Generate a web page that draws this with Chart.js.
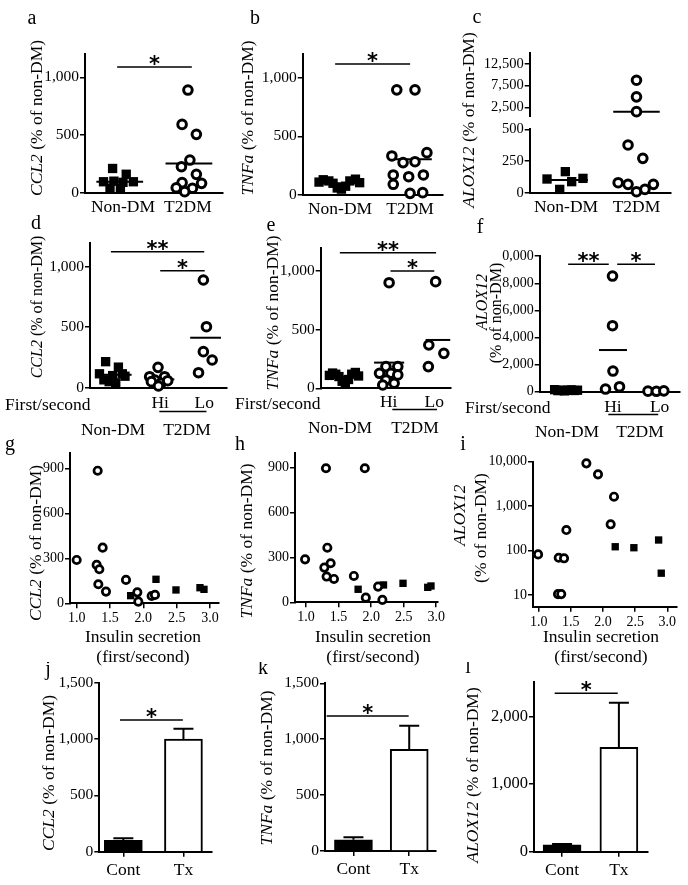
<!DOCTYPE html>
<html>
<head>
<meta charset="utf-8">
<script src="https://cdn.jsdelivr.net/npm/chart.js@4.4.0/dist/chart.umd.min.js"></script>
<style>
body { margin: 0; background: #fff; width: 688px; height: 885px; position: relative; overflow: hidden; }
canvas { position: absolute; }
</style>
</head>
<body>
<canvas id="pa"></canvas><canvas id="pb"></canvas><canvas id="pc"></canvas>
<canvas id="pd"></canvas><canvas id="pe"></canvas><canvas id="pf"></canvas>
<canvas id="pg"></canvas><canvas id="ph"></canvas><canvas id="pi"></canvas>
<canvas id="pj"></canvas><canvas id="pk"></canvas><canvas id="pl"></canvas>
<script>
const SERIF = '"Liberation Serif", "Times New Roman", serif';
Chart.defaults.font.family = SERIF;
Chart.defaults.color = '#000';

// ---- categories / tick labels ----
const groupsAC = ['Non-DM', 'T2DM'];
const groupsDF = ['', 'Hi', 'Lo'];
const barGroups = ['Cont', 'Tx'];
const ticks1200 = [0, 500, 1000];
const ticksCLow = [0, 250, 500];
const ticksCHigh = [2500, 7500, 12500];
const ticksF = [0, 2000, 4000, 6000, 8000, 10000];
const ticks900 = [0, 300, 600, 900];
const ticksLog = [10, 100, 1000, 10000];
const ticksInsulin = [1.0, 1.5, 2.0, 2.5, 3.0];
const ticks1500 = [0, 500, 1000, 1500];
const ticks2000 = [0, 1000, 2000];

// ---- a: CCL2 ----
const aNonX = [0.84, 1.05, 0.70, 0.86, 1.00, 1.16, 0.80, 0.96];
const aNonY = [210, 160, 95, 100, 90, 95, 40, 35];
const aT2X = [2.00, 1.91, 2.13, 2.03, 1.90, 2.13, 1.91, 2.21, 1.82, 2.07, 1.95];
const aT2Y = [890, 592, 506, 283, 225, 159, 87, 81, 43, 38, 9];
const aMean = [95, 254];

// ---- b: TNFa ----
const bNonX = [0.70, 0.76, 0.84, 0.90, 0.96, 1.02, 1.08, 1.14, 1.22, 1.28];
const bNonY = [110, 130, 120, 100, 60, 50, 75, 120, 135, 105];
const bT2X = [1.81, 2.07, 2.24, 1.74, 1.90, 2.07, 1.76, 2.19, 1.98, 1.76, 2.00, 2.18];
const bT2Y = [896, 896, 361, 333, 276, 284, 171, 171, 156, 91, 14, 20];
const bMean = [100, 304];

// ---- c: ALOX12 ----
const cNonX = [0.73, 0.99, 1.08, 1.24, 0.91];
const cNonY = [108, 166, 87, 113, 26];
const cT2X = [2.00, 2.00, 2.00, 1.88, 2.09, 1.74, 1.88, 2.00, 2.12, 2.24];
const cT2Y = [8700, 4900, 1500, 376, 271, 79, 66, 8, 26, 66];
const cMean = [100, 1500];

// ---- d: CCL2 by first/second ----
const dNonX = [0.76, 1.05, 0.62, 1.14, 0.92, 0.72, 0.99, 0.84, 1.20];
const dNonY = [215, 170, 115, 115, 100, 65, 40, 50, 95];
const dHiX = [1.95, 1.76, 2.10, 1.88, 2.02, 2.17, 1.80, 1.96];
const dHiY = [168, 91, 91, 63, 36, 58, 50, 14];
const dLoX = [2.98, 3.05, 2.98, 3.18, 2.87];
const dLoY = [890, 504, 298, 229, 124];
const dMean = [107, 69, 413];

// ---- e: TNFa by first/second ----
const eNonX = [0.70, 0.77, 0.84, 0.91, 0.98, 1.05, 1.12, 1.19, 1.27, 1.34];
const eNonY = [110, 130, 120, 100, 60, 50, 75, 120, 135, 105];
const eHiX = [2.01, 1.94, 2.20, 1.80, 2.05, 2.20, 1.94, 1.87, 2.12];
const eHiY = [900, 185, 185, 128, 128, 114, 71, 28, 43];
const eLoX = [3.03, 2.88, 3.21, 2.87];
const eLoY = [909, 369, 298, 185];
const eMean = [100, 219, 412];

// ---- f: ALOX12 by first/second ----
const fNonX = [0.75, 0.82, 0.89, 0.96, 1.03, 1.10, 1.17, 1.24];
const fNonY = [150, 80, 120, 60, 100, 140, 90, 110];
const fHiX = [1.99, 1.99, 2.00, 1.84, 2.14];
const fHiY = [8536, 4870, 1525, 197, 369];
const fLoX = [2.75, 2.93, 3.09];
const fLoY = [40, 30, 60];
const fMean = [106, 3075, 43];

// ---- g/h/i: vs insulin secretion (circles T2DM, squares non-DM) ----
const gCircX = [1.315, 1.00, 1.39, 1.30, 1.34, 1.325, 1.44, 1.74, 1.91, 1.925, 2.125, 2.175];
const gCircY = [884, 289, 371, 256, 227, 127, 78, 156, 73, 11, 49, 56];
const gSqX = [1.81, 2.19, 2.49, 2.85, 2.91];
const gSqY = [51, 160, 89, 104, 93];
const hCircX = [1.306, 1.903, 0.985, 1.327, 1.281, 1.378, 1.316, 1.429, 1.735, 1.918, 2.107, 2.173];
const hCircY = [896, 896, 287, 365, 232, 261, 172, 156, 176, 31, 105, 16];
const hSqX = [1.80, 2.19, 2.49, 2.87, 2.92];
const hSqY = [87, 116, 127, 100, 109];
const iCircX = [1.741, 1.922, 2.171, 2.119, 1.43, 0.99, 1.311, 1.394, 1.30, 1.35];
const iCircY = [9170, 5190, 1630, 390, 290, 82, 69, 67, 10.5, 10.5];
const iSqX = [2.19, 2.48, 2.865, 2.906];
const iSqY = [122, 116, 173, 31];

// ---- j/k/l: bars, mean and SEM ----
const jMean = [100, 1000], jSem = [20, 92];
const kMean = [100, 910], kSem = [22, 210];
const lMean = [100, 1540], lSem = [12, 660];

// ---- helpers ----
function pts(xs, ys) { return xs.map((x, i) => ({x: x, y: ys[i]})); }

function circles(xs, ys, r, bw, axis) {
  return {data: pts(xs, ys), yAxisID: axis || 'y', pointStyle: 'circle', pointRadius: r,
    pointBorderWidth: bw, pointBorderColor: '#000', pointBackgroundColor: '#fff', showLine: false, clip: false};
}
function squares(xs, ys, r, axis) {
  return {data: pts(xs, ys), yAxisID: axis || 'y', pointStyle: 'rect', pointRadius: r,
    pointBorderWidth: 0, pointBackgroundColor: '#000', showLine: false, clip: false};
}
function meanLine(c, hw, m, axis) {
  return {data: [{x: c - hw, y: m}, {x: c + hw, y: m}], yAxisID: axis || 'y', showLine: true,
    borderColor: '#000', borderWidth: 2, pointRadius: 0, clip: false};
}
function yLin(min, max, ticks, size, extra) {
  return Object.assign({
    type: 'linear', position: 'left', min: min, max: max,
    afterBuildTicks: s => { s.ticks = ticks.map(v => ({value: v})); },
    ticks: {font: {size: size}, padding: 1, autoSkip: false, callback: v => v.toLocaleString('en-US')},
    grid: {drawOnChartArea: false, tickLength: 5, color: '#000', lineWidth: 1.5},
    border: {color: '#000', width: 2}
  }, extra || {});
}
function xLin(min, max, ticks, labelFn, size, pad, tickMarks) {
  return {
    type: 'linear', position: 'bottom', min: min, max: max, offset: false,
    afterBuildTicks: s => { s.ticks = ticks.map(v => ({value: v})); },
    ticks: {font: {size: size}, padding: pad, autoSkip: false, maxRotation: 0, minRotation: 0, callback: labelFn},
    grid: {display: tickMarks, offset: false, drawOnChartArea: false, drawTicks: tickMarks, tickLength: 5, color: '#000', lineWidth: 1.5},
    border: {color: '#000', width: 2}
  };
}
function title(gene, x, y, size) { return {parts: [[gene, true], [' (% of non-DM)', false]], x: x, y: y, size: size}; }

function vtext(ctx, parts, cx, cy, size) {
  ctx.save();
  ctx.translate(cx, cy);
  ctx.rotate(-Math.PI / 2);
  let total = 0;
  const w = parts.map(p => {
    ctx.font = (p[1] ? 'italic ' : '') + size + 'px ' + SERIF;
    const m = ctx.measureText(p[0]).width; total += m; return m;
  });
  let x = -total / 2;
  ctx.textAlign = 'left'; ctx.textBaseline = 'middle';
  parts.forEach((p, i) => {
    ctx.font = (p[1] ? 'italic ' : '') + size + 'px ' + SERIF;
    ctx.fillText(p[0], x, 0); x += w[i];
  });
  ctx.restore();
}

const decoPlugin = {
  id: 'deco',
  afterDraw(chart, args, o) {
    if (!o || !o.box) return;
    const ctx = chart.ctx, L = o.box[0], T = o.box[1], xs = chart.scales.x;
    ctx.save();
    ctx.fillStyle = '#000'; ctx.strokeStyle = '#000';
    if (o.clear) o.clear(chart, ctx);
    (o.sig || []).forEach(s => {
      const ys = chart.scales[s[4] || 'y'];
      const x1 = xs.getPixelForValue(s[0]), x2 = xs.getPixelForValue(s[1]), y = ys.getPixelForValue(s[2]);
      ctx.lineWidth = 1.5;
      ctx.beginPath(); ctx.moveTo(x1, y); ctx.lineTo(x2, y); ctx.stroke();
      ctx.font = 'bold 21px "DejaVu Sans"'; ctx.textAlign = 'center'; ctx.textBaseline = 'alphabetic';
      ctx.fillText(s[3], (x1 + x2) / 2, y + 4);
    });
    if (o.err) {
      const ys = chart.scales.y;
      ctx.lineWidth = 2;
      o.err[0].forEach((m, i) => {
        const x = xs.getPixelForValue(i + 1), y0 = ys.getPixelForValue(m), y1 = ys.getPixelForValue(m + o.err[1][i]);
        ctx.beginPath(); ctx.moveTo(x, y0); ctx.lineTo(x, y1);
        ctx.moveTo(x - 10, y1); ctx.lineTo(x + 10, y1); ctx.stroke();
      });
    }
    (o.under || []).forEach(u => {
      ctx.lineWidth = 1.5;
      ctx.beginPath(); ctx.moveTo(xs.getPixelForValue(u[0]), u[2] - T); ctx.lineTo(xs.getPixelForValue(u[1]), u[2] - T); ctx.stroke();
    });
    ctx.translate(-L, -T);
    (o.texts || []).forEach(t => {
      ctx.font = (t.size || 17.5) + 'px ' + SERIF;
      ctx.textAlign = t.align || 'center'; ctx.textBaseline = 'middle';
      ctx.fillText(t.t, t.x, t.y);
    });
    (o.titles || []).forEach(t => vtext(ctx, t.parts, t.x, t.y, t.size || 17.5));
    ctx.restore();
  }
};
Chart.register(decoPlugin);

// box = canvas [left, top, width, height]; area = plot [left, top, right, bottom], page pixels
function panel(id, box, area, type, datasets, scales, deco) {
  const c = document.getElementById(id);
  c.width = box[2]; c.height = box[3];
  c.style.left = box[0] + 'px'; c.style.top = box[1] + 'px';
  Object.keys(scales).forEach(k => {
    if (k[0] === 'x') scales[k].afterFit = s => { s.height = box[1] + box[3] - area[3]; };
    else scales[k].afterFit = s => { s.width = area[0] - box[0]; };
  });
  deco.box = box;
  return new Chart(c, {
    type: type,
    data: {datasets: datasets},
    options: {
      responsive: false, animation: false, devicePixelRatio: 1, events: [],
      layout: {padding: {left: 0, top: area[1] - box[1], right: box[0] + box[2] - area[2], bottom: 0}},
      scales: scales,
      plugins: {legend: {display: false}, tooltip: {enabled: false}, deco: deco}
    }
  });
}

const catAC = v => groupsAC[Math.round(v) - 1];
const catDF = v => groupsDF[Math.round(v) - 1];
const catBar = v => barGroups[Math.round(v) - 1];
const ins = v => v.toFixed(1);
const R1 = 4.3, B1 = 3, S1 = 6.6, R3 = 3.7, B3 = 2.7, S3 = 5.2;

// row 1
panel('pa', [0, 0, 234, 216], [85, 54.3, 223, 192.7], 'scatter', [
  squares(aNonX, aNonY, S1), circles(aT2X, aT2Y, R1, B1),
  meanLine(0.95, 0.36, aMean[0]), meanLine(2.015, 0.36, aMean[1])
], {x: xLin(0.415, 2.54, [1, 2], catAC, 17.5, 4, false), y: yLin(0, 1200, ticks1200, 15.5)}, {
  sig: [[0.91, 2.06, 1090, '*']],
  texts: [{t: 'a', x: 32, y: 19, size: 20}],
  titles: [title('CCL2', 37, 118)]
});

panel('pb', [230, 0, 228, 216], [302.7, 54.2, 443, 195], 'scatter', [
  squares(bNonX, bNonY, S1), circles(bT2X, bT2Y, R1, B1),
  meanLine(1.0, 0.3, bMean[0]), meanLine(2.02, 0.29, bMean[1])
], {x: xLin(0.467, 2.47, [1, 2], catAC, 17.5, 4, false), y: yLin(0, 1200, ticks1200, 15.5)}, {
  sig: [[0.93, 2.0, 1117, '*']],
  texts: [{t: 'b', x: 255, y: 19, size: 20}],
  titles: [title('TNFa', 248, 118)]
});

const cLowX = cT2X.filter((x, i) => cT2Y[i] <= 500), cLowY = cT2Y.filter(v => v <= 500);
const cHighX = cT2X.filter((x, i) => cT2Y[i] > 500), cHighY = cT2Y.filter(v => v > 500);
panel('pc', [456, 0, 232, 216], [529.7, 52.8, 671, 192.7], 'scatter', [
  squares(cNonX, cNonY, S1), circles(cLowX, cLowY, R1, B1), circles(cHighX, cHighY, R1, B1, 'yHigh'),
  meanLine(1.0, 0.31, cMean[0]), meanLine(2.0, 0.33, cMean[1], 'yHigh')
], {
  x: xLin(0.484, 2.49, [1, 2], catAC, 17.5, 4, false),
  y: yLin(0, 500, ticksCLow, 14.5, {stack: 'c', stackWeight: 63.4}),
  yHigh: yLin(-2550, 15000, ticksCHigh, 14.5, {stack: 'c', stackWeight: 76.5})
}, {
  clear: (chart, ctx) => {
    const x = chart.chartArea.left, yh = chart.scales.yHigh.getPixelForValue(500), yl = chart.scales.y.top;
    ctx.clearRect(x - 3, yh + 1, 6, yl - yh - 2.5);
  },
  texts: [{t: 'c', x: 477, y: 18, size: 20}],
  titles: [title('ALOX12', 469, 120)]
});

// row 2
panel('pd', [0, 214, 234, 226], [90, 242.5, 231, 387.7], 'scatter', [
  squares(dNonX, dNonY, S1), circles(dHiX, dHiY, R1, B1), circles(dLoX, dLoY, R1, B1),
  meanLine(1.0, 0.35, dMean[0]), meanLine(1.99, 0.33, dMean[1]), meanLine(3.03, 0.35, dMean[2])
], {x: xLin(0.405, 3.51, [1, 2, 3], catDF, 17.5, 5, false), y: yLin(0, 1200, ticks1200, 15.5)}, {
  sig: [[0.88, 3.0, 1124, '**'], [2.0, 3.01, 967, '*']],
  under: [[1.98, 3.05, 411.5]],
  texts: [{t: 'd', x: 36, y: 224, size: 20}, {t: 'First/second', x: 5, y: 405, align: 'left'},
    {t: 'Non-DM', x: 113, y: 430}, {t: 'T2DM', x: 187, y: 430}],
  titles: [title('CCL2', 38, 307, 16)]
});

panel('pe', [230, 214, 228, 226], [320.7, 247.5, 451.7, 388.3], 'scatter', [
  squares(eNonX, eNonY, S1), circles(eHiX, eHiY, R1, B1), circles(eLoX, eLoY, R1, B1),
  meanLine(1.0, 0.35, eMean[0]), meanLine(2.01, 0.33, eMean[1]), meanLine(3.08, 0.27, eMean[2])
], {x: xLin(0.51, 3.36, [1, 2, 3], catDF, 17.5, 4, false), y: yLin(0, 1200, ticks1200, 15.5)}, {
  sig: [[0.93, 3.04, 1156, '**'], [2.04, 3.0, 1000, '*']],
  under: [[2.08, 3.06, 409.5]],
  texts: [{t: 'e', x: 271, y: 226, size: 20}, {t: 'First/second', x: 235, y: 404, align: 'left'},
    {t: 'Non-DM', x: 340, y: 428}, {t: 'T2DM', x: 415, y: 428}],
  titles: [title('TNFa', 273, 313)]
});

panel('pf', [456, 214, 232, 226], [539.7, 256.2, 679.7, 391.7], 'scatter', [
  squares(fNonX, fNonY, S1), circles(fHiX, fHiY, R1, B1), circles(fLoX, fLoY, R1, B1),
  meanLine(1.0, 0.3, fMean[0]), meanLine(2.0, 0.3, fMean[1]), meanLine(2.92, 0.25, fMean[2])
], {x: xLin(0.43, 3.43, [1, 2, 3], catDF, 17.5, 5, false), y: yLin(0, 10000, ticksF, 14)}, {
  clear: (chart, ctx) => {
    const ys = chart.scales.y, y = ys.getPixelForValue(10000);
    ctx.font = '14px ' + SERIF;
    const xr = ys.right - 6 - ctx.measureText('0,000').width - 0.5;
    ctx.clearRect(0, y - 10, xr, 20);
  },
  sig: [[1.04, 1.91, 9402, '**'], [2.09, 2.9, 9402, '*']],
  under: [[1.9, 2.97, 414.5]],
  texts: [{t: 'f', x: 480, y: 228, size: 20}, {t: 'First/second', x: 465, y: 408, align: 'left'},
    {t: 'Non-DM', x: 567, y: 432}, {t: 'T2DM', x: 640, y: 432}],
  titles: [{parts: [['ALOX12', true]], x: 483, y: 302, size: 16}, {parts: [['(% of non-DM)', false]], x: 497, y: 313, size: 16}]
});

// row 3
const insText = (cx) => [{t: 'Insulin secretion', x: cx, y: 637}, {t: '(first/second)', x: cx, y: 657}];
panel('pg', [0, 436, 234, 230], [70, 453.3, 218.3, 603.3], 'scatter', [
  circles(gCircX, gCircY, R3, B3), squares(gSqX, gSqY, S3)
], {x: xLin(0.9, 3.125, ticksInsulin, ins, 14, 2, true), y: yLin(0, 1000, ticks900, 14)}, {
  texts: [{t: 'g', x: 10, y: 445, size: 20}].concat(insText(143)),
  titles: [title('CCL2', 36, 543)]
});

panel('ph', [230, 436, 228, 230], [295, 452.7, 437.5, 602.3], 'scatter', [
  circles(hCircX, hCircY, R3, B3), squares(hSqX, hSqY, S3)
], {x: xLin(0.83, 3.02, ticksInsulin, ins, 14, 2, true), y: yLin(0, 1000, ticks900, 14)}, {
  texts: [{t: 'h', x: 240, y: 445, size: 20}].concat(insText(373)),
  titles: [title('TNFa', 247, 541)]
});

panel('pi', [440, 436, 248, 230], [533, 461.7, 676.3, 606.7], 'scatter', [
  circles(iCircX, iCircY, R3, B3), squares(iSqX, iSqY, S3)
], {x: xLin(0.911, 3.14, ticksInsulin, ins, 14, 2, true),
    y: yLin(5.46, 10000, ticksLog, 14, {type: 'logarithmic'})}, {
  texts: [{t: 'i', x: 463, y: 445, size: 20}].concat(insText(601)),
  titles: [{parts: [['ALOX12', true]], x: 460, y: 515}, {parts: [['(% of non-DM)', false]], x: 481, y: 528}]
});

// row 4
function bars(means) {
  return [{data: means.map((m, i) => ({x: i + 1, y: m})), backgroundColor: ['#000', '#fff'],
    borderColor: '#000', borderWidth: 2, borderSkipped: 'bottom', barThickness: 38}];
}
panel('pj', [0, 662, 234, 223], [99.3, 682.7, 211.7, 851.7], 'bar', bars(jMean),
  {x: xLin(0.6, 2.47, [1, 2], catBar, 17.5, 3, true), y: yLin(0, 1500, ticks1500, 15.5)}, {
  err: [jMean, jSem], sig: [[0.945, 1.99, 1169, '*']],
  texts: [{t: 'j', x: 48, y: 670, size: 20}],
  titles: [title('CCL2', 49, 773)]
});
panel('pk', [230, 662, 228, 223], [325, 683.3, 436, 851], 'bar', bars(kMean),
  {x: xLin(0.49, 2.48, [1, 2], catBar, 17.5, 3, true), y: yLin(0, 1500, ticks1500, 15.5)}, {
  err: [kMean, kSem], sig: [[0.52, 1.99, 1207, '*']],
  texts: [{t: 'k', x: 263, y: 669, size: 20}],
  titles: [title('TNFa', 267, 768)]
});
panel('pl', [456, 662, 232, 223], [534, 682.4, 647.3, 851.7], 'bar', bars(lMean),
  {x: xLin(0.506, 2.5, [1, 2], catBar, 17.5, 3, true), y: yLin(0, 2500, ticks2000, 16.5)}, {
  err: [lMean, lSem], sig: [[0.87, 1.98, 2340, '*']],
  texts: [{t: 'l', x: 468, y: 668, size: 20}],
  titles: [title('ALOX12', 473, 775)]
});
</script>
</body>
</html>
